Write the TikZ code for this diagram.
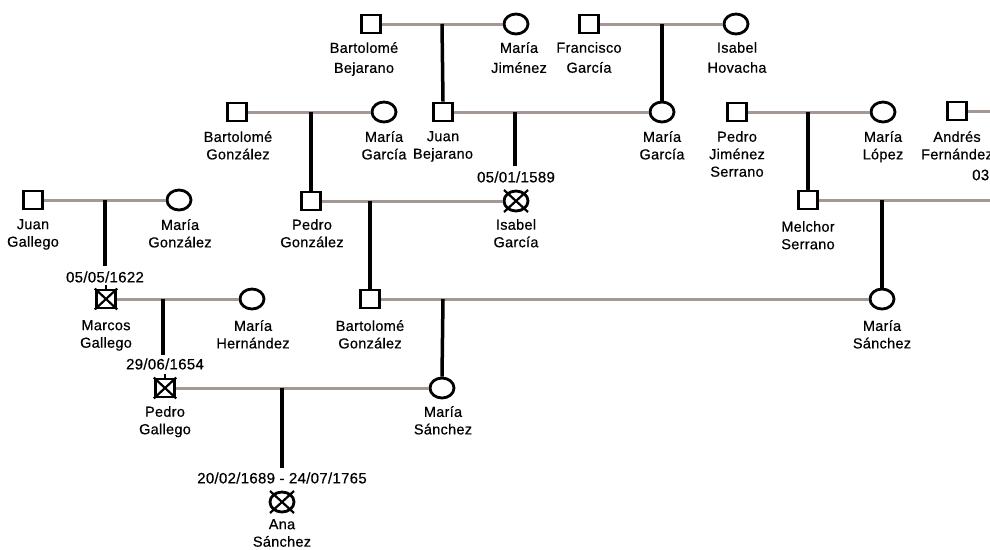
\documentclass[tikz,border=0pt]{standalone}
\usepackage{fontspec}
\setmainfont[FakeBold=0.5,LetterSpace=2]{Liberation Sans}
\usetikzlibrary{shapes.geometric}
\definecolor{marcol}{RGB}{165,152,148}
\begin{document}
\begin{tikzpicture}[x=1pt,y=-1pt,
  male/.style={draw, fill=white, line width=2.8pt, minimum width=19.5pt, minimum height=18pt, inner sep=0pt},
  female/.style={draw, fill=white, ellipse, line width=2.8pt, minimum width=24pt, minimum height=20pt, inner sep=0pt},
  lbl/.style={font=\fontsize{14.5}{17.5}\selectfont, align=center, inner sep=0pt, anchor=north, execute at begin node={\rule{0pt}{11pt}}},
  lbltop/.style={lbl, font=\fontsize{14.5}{20}\selectfont},
  datelbl/.style={font=\fontsize{15}{17}\selectfont, inner sep=0pt},
  marr/.style={draw=marcol, line width=3pt},
  desc/.style={draw=black, line width=3.5pt},
  xmark/.style={draw=black, line width=2.2pt},
]
\fill[white] (0,0) rectangle (990,549);
\useasboundingbox (0,0) rectangle (990,549);

% ---------- Generation 0 ----------
\node[male]   (bb)  at (371,24) {};
\node[female] (mj)  at (516,24) {};
\node[male]   (fg)  at (589,24) {};
\node[female] (ih)  at (736,24) {};
\node[lbltop] (bbl) at (364,42) {Bartolomé\\Bejarano};
\node[lbltop] (mjl) at (519,42) {María\\Jiménez};
\node[lbltop] (fgl) at (589,42) {Francisco\\García};
\node[lbltop] (ihl) at (737,42) {Isabel\\Hovacha};

% ---------- Generation 1 ----------
\node[male]   (bg)  at (237,112) {};
\node[female] (mg1) at (384,112) {};
\node[male]   (jb)  at (443,112) {};
\node[female] (mg2) at (662,112) {};
\node[male]   (pjs) at (737,112) {};
\node[female] (ml)  at (883,112) {};
\node[male]   (af)  at (957,111) {};
\node[lbl] (bgl)  at (238,131) {Bartolomé\\González};
\node[lbl] (mg1l) at (384,131) {María\\García};
\node[lbl] (jbl)  at (443,131) {Juan\\Bejarano};
\node[lbl] (mg2l) at (662,131) {María\\García};
\node[lbl] (pjsl) at (737,131) {Pedro\\Jiménez\\Serrano};
\node[lbl] (mll)  at (883,131) {María\\López};
\node[lbl] (afl)  at (957,131) {Andrés\\Fernández};
\node[datelbl, anchor=west] (afd) at (972,175) {03};
\coordinate (afe) at (1000,111);

% ---------- Generation 2 ----------
\node[male]   (jg)  at (33,200) {};
\node[female] (mgz) at (179,200) {};
\node[male]   (pg)  at (311,201) {};
\node[female] (ig)  at (516,201) {};
\node[male]   (ms)  at (808,200) {};
\node[lbl] (jgl)  at (33,219) {Juan\\Gallego};
\node[lbl] (mgzl) at (180,219) {María\\González};
\node[lbl] (pgl)  at (312,219) {Pedro\\González};
\node[lbl] (igl)  at (516,219) {Isabel\\García};
\node[lbl] (msl)  at (808,221) {Melchor\\Serrano};
\node[datelbl] (igd) at (516,177) {05/01/1589};
\coordinate (mse) at (1000,200);

% ---------- Generation 3 ----------
\node[male]   (mg)   at (106,299) {};
\node[female] (mh)   at (252,299) {};
\node[male]   (bg2)  at (370,299) {};
\node[female] (msa1) at (882,299) {};
\node[lbl] (mgl)   at (106,320) {Marcos\\Gallego};
\node[lbl] (mhl)   at (253,320) {María\\Hernández};
\node[lbl] (bg2l)  at (370,320) {Bartolomé\\González};
\node[lbl] (msa1l) at (882,320) {María\\Sánchez};
\node[datelbl] (mgd) at (105,277) {05/05/1622};

% ---------- Generation 4 ----------
\node[male]   (pga)  at (165,388) {};
\node[female] (msa2) at (442,388) {};
\node[lbl] (pgal)  at (165,406) {Pedro\\Gallego};
\node[lbl] (msa2l) at (443,406) {María\\Sánchez};
\node[datelbl] (pgad) at (165,364) {29/06/1654};

% ---------- Generation 5 ----------
\node[female] (as) at (282,502) {};
\node[lbl] (asl) at (282,519) {Ana\\Sánchez};
\node[datelbl] (asd) at (282,478) {20/02/1689 - 24/07/1765};

% ---------- marriage lines ----------
\draw[marr] (bb.east) -- (mj.west);
\draw[marr] (fg.east) -- (ih.west);
\draw[marr] (bg.east) -- (mg1.west);
\draw[marr] (jb.east) -- (mg2.west);
\draw[marr] (pjs.east) -- (ml.west);
\draw[marr] (af.east) -- (afe);
\draw[marr] (jg.east) -- (mgz.west);
\draw[marr] (pg.east) -- (ig.west);
\draw[marr] (ms.east) -- (mse);
\draw[marr] (mg.east) -- (mh.west);
\draw[marr] (bg2.east) -- (msa1.west);
\draw[marr] (pga.east) -- (msa2.west);

% ---------- descent lines ----------
\coordinate (c01) at (442,24);
\coordinate (c02) at (662,24);
\coordinate (c11) at (311,112);
\coordinate (c12) at (515,112);
\coordinate (c12e) at (515,166);
\coordinate (c13) at (808,112);
\coordinate (c21) at (105,200);
\coordinate (c21e) at (105,266);
\coordinate (c22) at (370,201);
\coordinate (c23) at (882,200);
\coordinate (c31) at (163,299);
\coordinate (c31e) at (163,355);
\coordinate (c32) at (443,299);
\coordinate (c41) at (282,388);
\coordinate (c41e) at (282,468);
\draw[desc] (c01) -- (jb.north);
\draw[desc] (c02) -- (mg2.north);
\draw[desc] (c11) -- (pg.north);
\draw[desc] (c12) -- (c12e);
\draw[desc] (c13) -- (ms.north);
\draw[desc] (c21) -- (c21e);
\draw[desc] (c22) -- (bg2.north);
\draw[desc] (c23) -- (msa1.north);
\draw[desc] (c31) -- (c31e);
\draw[desc] (c32) -- (msa2.north);
\draw[desc] (c41) -- (c41e);

% ---------- crossed symbols ----------
\draw[xmark] (mg.north west) -- (mg.south east) (mg.north east) -- (mg.south west);
\draw[xmark] (pga.north west) -- (pga.south east) (pga.north east) -- (pga.south west);
\draw[line width=2.5pt] (mg.north) -- ++(0,-4);
\draw[line width=2.5pt] (pga.north) -- ++(0,-4);
\draw[xmark] ([shift={(-12,-11)}]ig.center) -- ([shift={(12,11)}]ig.center)
             ([shift={(12,-11)}]ig.center) -- ([shift={(-12,11)}]ig.center);
\draw[xmark] ([shift={(-12,-11)}]as.center) -- ([shift={(12,11)}]as.center)
             ([shift={(12,-11)}]as.center) -- ([shift={(-12,11)}]as.center);
\end{tikzpicture}
\end{document}
